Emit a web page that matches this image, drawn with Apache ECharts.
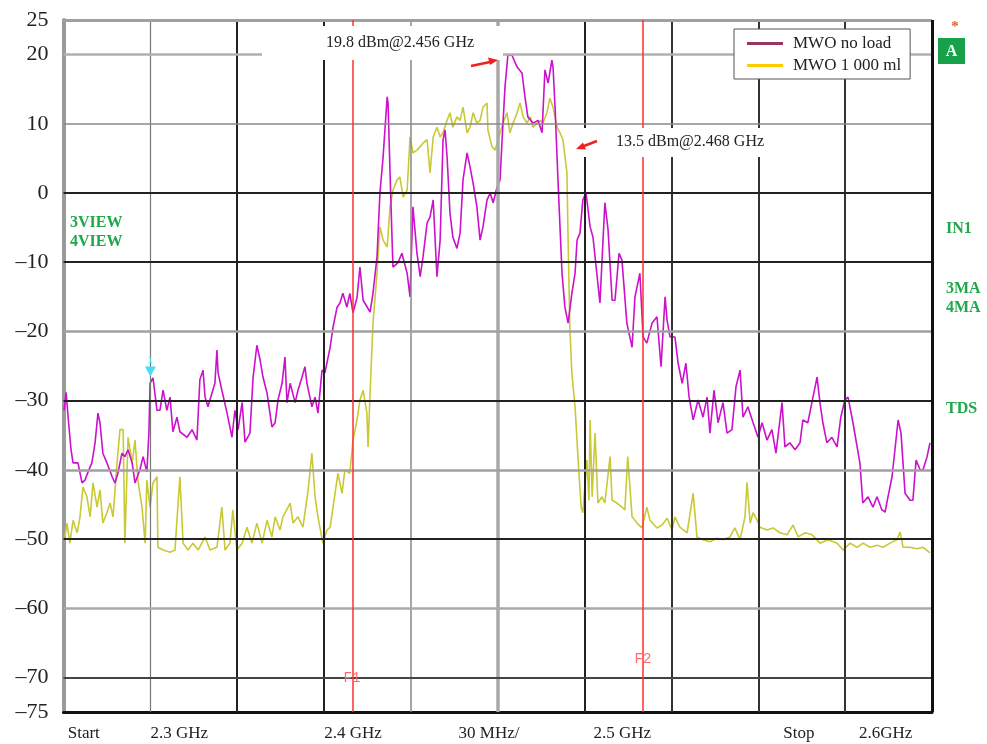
<!DOCTYPE html>
<html><head><meta charset="utf-8">
<script src="https://cdn.jsdelivr.net/npm/echarts@6/dist/echarts.min.js"></script>
<style>html,body{margin:0;padding:0;background:#fff}#c{width:987px;height:744px}</style>
</head><body><div id="c"></div>
<script>
// ---- data (frequency in MHz, level in dBm) ----
const seriesNames = ['MWO no load', 'MWO 1 000 ml'];

const noLoadTrace = [
[2300.2,-31.4],[2300.9,-28.8],[2301.6,-32.4],[2302.6,-37.1],[2303.3,-39.0],[2305.0,-39.0],[2306.4,-41.9],[2307.4,-41.5],[2308.5,-40.3],[2309.8,-39.0],[2310.9,-36.1],[2311.9,-31.8],[2312.6,-33.2],[2313.6,-37.6],[2315.0,-39.0],[2316.8,-41.0],[2317.8,-41.9],[2318.8,-40.5],[2320.2,-37.6],[2321.2,-38.1],[2322.3,-37.1],[2323.7,-39.0],[2324.7,-41.9],[2326.4,-40.0],[2327.5,-38.1],[2328.8,-40.3],[2329.5,-34.7],[2329.9,-27.5],[2330.9,-26.7],[2332.3,-31.4],[2333.3,-31.4],[2334.4,-28.5],[2335.7,-31.4],[2336.8,-29.5],[2337.8,-34.5],[2339.2,-32.4],[2340.2,-34.5],[2342.7,-35.3],[2344.4,-34.2],[2346.1,-35.7],[2347.1,-27.0],[2348.2,-25.6],[2348.9,-29.5],[2349.9,-30.9],[2351.3,-28.9],[2352.3,-27.5],[2353.0,-22.7],[2353.4,-26.0],[2354.7,-28.5],[2356.5,-31.8],[2358.2,-35.3],[2359.2,-31.4],[2360.3,-34.2],[2361.7,-30.3],[2362.7,-36.0],[2364.4,-34.7],[2365.5,-26.6],[2366.8,-22.0],[2367.9,-24.1],[2368.9,-26.6],[2370.3,-28.9],[2372.0,-33.8],[2373.1,-33.2],[2374.1,-29.9],[2375.5,-27.5],[2376.5,-23.7],[2377.2,-30.3],[2378.3,-27.5],[2380.0,-30.3],[2381.0,-28.5],[2382.4,-26.6],[2383.4,-25.1],[2384.1,-27.5],[2385.8,-30.9],[2386.9,-29.5],[2387.9,-31.8],[2389.3,-25.6],[2390.3,-26.0],
[2392.1,-22.3],[2393.1,-19.4],[2394.5,-16.5],[2395.5,-15.9],[2396.5,-14.5],[2397.9,-16.5],[2398.9,-14.5],[2400.0,-17.3],[2401.4,-15.1],[2402.4,-10.7],[2403.5,-15.5],[2405.9,-17.2],[2406.9,-14.5],[2408.3,-9.2],[2409.3,0.0],[2410.4,5.2],[2411.8,13.9],[2412.1,13.0],[2412.8,2.9],[2413.5,-6.8],[2413.8,-10.7],[2415.5,-10.1],[2416.9,-8.7],[2418.7,-11.6],[2419.7,-15.0],[2420.7,-2.0],[2422.1,-8.7],[2423.2,-12.1],[2424.2,-9.2],[2425.6,-4.3],[2426.6,-3.5],[2427.7,-1.0],[2429.0,-12.1],[2430.1,-6.8],[2431.1,7.7],[2431.8,9.1],[2432.5,5.2],[2433.5,-2.9],[2434.5,-6.4],[2435.9,-8.0],[2437.0,-5.8],[2438.0,1.9],[2439.4,5.8],[2440.4,3.8],[2441.5,1.4],[2442.8,-2.0],[2443.9,-6.8],[2444.9,-4.9],[2446.3,-1.0],[2447.4,0.0],[2448.4,-1.4],[2449.8,0.9],[2450.8,1.9],[2451.5,7.7],[2452.5,15.3],[2453.5,19.9],[2454.9,19.9],[2456.7,18.2],[2458.4,17.3],[2459.4,13.9],[2460.4,11.0],[2462.2,10.1],[2463.9,10.5],[2465.3,8.7],[2466.3,17.8],[2467.4,15.9],[2468.7,19.2],[2469.1,18.2],[2469.8,12.4],[2470.8,1.9],[2472.2,-11.6],[2473.2,-16.5],[2474.3,-18.8],[2475.6,-14.5],[2476.7,-11.6],[2477.4,-6.8],[2478.4,-5.8],[2479.4,-1.0],[2480.5,0.0],
[2481.9,-4.9],[2482.9,-6.4],[2485.3,-15.9],[2487.0,-1.4],[2488.1,-5.3],[2489.5,-15.5],[2490.5,-15.5],[2491.9,-8.7],[2492.9,-9.7],[2494.6,-18.8],[2496.4,-22.3],[2497.4,-15.0],[2499.1,-11.6],[2500.2,-20.8],[2501.5,-21.7],[2503.3,-18.8],[2505.0,-17.9],[2506.4,-25.1],[2507.8,-15.0],[2508.5,-18.4],[2509.5,-20.8],[2511.2,-20.8],[2512.3,-24.6],[2513.7,-27.5],[2515.0,-24.6],[2516.1,-29.5],[2517.5,-32.8],[2519.2,-29.9],[2520.9,-32.4],[2522.3,-29.5],[2523.3,-34.7],[2524.7,-28.5],[2526.1,-33.2],[2527.8,-30.3],[2529.2,-34.7],[2530.9,-34.2],[2532.3,-28.0],[2533.7,-25.6],[2534.7,-32.4],[2536.4,-30.9],[2538.2,-33.2],[2539.9,-35.3],[2541.3,-33.2],[2543.0,-35.7],[2544.7,-34.2],[2546.1,-37.6],[2548.2,-30.3],[2549.2,-36.7],[2550.9,-36.1],[2552.7,-37.1],[2554.4,-36.1],[2555.4,-32.8],[2557.1,-33.2],[2558.9,-29.5],[2560.3,-26.6],[2561.3,-30.3],[2562.3,-33.2],[2563.7,-36.1],[2565.4,-35.3],[2567.2,-36.7],[2568.5,-32.4],[2569.9,-29.9],[2571.0,-29.5],[2572.7,-33.2],[2575.1,-39.0],[2576.1,-44.8],[2577.9,-43.9],[2579.6,-45.4],[2581.0,-43.9],[2582.7,-45.8],[2583.8,-46.1],[2584.8,-43.9],[2586.2,-41.0],[2587.2,-37.1],[2588.3,-32.8],[2589.3,-34.7],[2590.7,-43.4],[2592.4,-44.4],[2593.4,-44.4],[2594.5,-38.6],[2595.9,-40.0],[2596.9,-40.0],[2598.3,-38.1],[2599.3,-36.1]
];

const load1000Trace = [
[2300.5,-49.7],[2301.2,-47.7],[2302.2,-50.6],[2303.3,-47.3],[2304.7,-49.1],[2305.7,-46.8],[2306.7,-42.5],[2308.1,-43.9],[2309.2,-46.8],[2310.2,-41.9],[2311.6,-45.4],[2312.6,-42.9],[2313.6,-47.7],[2315.0,-46.2],[2316.1,-44.8],[2317.1,-46.8],[2318.5,-39.0],[2319.5,-34.2],[2320.6,-34.2],[2321.2,-50.6],[2322.3,-35.3],[2323.7,-39.0],[2324.7,-35.7],[2325.7,-41.5],[2327.1,-45.4],[2328.2,-50.6],[2328.8,-41.5],[2329.9,-45.4],[2330.9,-41.9],[2332.3,-41.0],[2332.6,-51.2],[2334.4,-51.6],[2336.8,-51.9],[2338.5,-51.6],[2340.2,-41.0],[2341.3,-50.6],[2343.0,-51.6],[2344.7,-50.6],[2346.5,-51.6],[2348.9,-49.7],[2350.6,-51.6],[2353.0,-51.2],[2354.7,-45.4],[2355.8,-51.6],[2357.5,-50.6],[2358.5,-45.8],[2359.9,-51.6],[2361.7,-50.6],[2363.4,-48.3],[2365.1,-50.6],[2366.8,-47.7],[2368.6,-50.6],[2370.3,-47.3],[2372.0,-49.7],[2373.1,-46.8],[2374.8,-48.7],[2375.8,-46.8],[2378.3,-44.8],[2379.3,-47.7],[2381.0,-46.8],[2382.7,-48.3],[2384.5,-42.9],[2385.8,-37.6],[2386.9,-43.9],[2387.9,-46.8],[2389.6,-50.6],[2391.0,-48.7],
[2392.1,-48.3],[2393.8,-43.4],[2394.8,-40.5],[2396.2,-43.4],[2397.2,-40.0],[2398.9,-40.5],[2400.0,-35.7],[2401.4,-32.8],[2402.4,-29.9],[2403.5,-28.5],[2404.8,-31.8],[2405.2,-36.7],[2405.9,-28.9],[2406.9,-18.8],[2408.3,-11.6],[2409.3,-4.9],[2410.4,-6.8],[2411.8,-7.8],[2412.8,-2.0],[2413.8,0.4],[2415.2,1.9],[2416.2,2.3],[2417.3,-0.6],[2418.7,0.4],[2419.7,8.1],[2420.7,5.8],[2422.1,6.2],[2423.2,6.7],[2424.2,7.2],[2425.6,7.7],[2426.6,2.9],[2427.7,8.1],[2429.0,9.5],[2430.1,8.1],[2431.1,8.7],[2432.5,10.5],[2433.5,11.6],[2434.5,9.5],[2435.9,11.0],[2437.0,10.5],[2438.0,12.4],[2439.4,8.7],[2440.4,9.5],[2441.5,11.6],[2442.8,10.1],[2443.9,10.5],[2444.9,12.4],[2446.3,13.0],[2446.6,9.1],[2448.0,6.7],[2449.1,6.2],[2450.8,8.7],[2451.8,10.1],[2453.2,11.6],[2454.2,8.7],[2455.3,10.1],[2456.7,11.6],[2457.7,13.0],[2458.8,11.0],[2460.1,10.1],[2461.2,11.0],[2462.2,9.5],[2463.6,10.1],[2464.6,10.5],[2465.6,10.1],[2467.0,11.6],[2468.0,13.7],[2469.1,12.4],[2470.5,9.5],[2471.5,8.7],[2472.5,7.7],[2473.9,2.9],[2474.3,-6.8],[2474.9,-19.4],[2475.6,-26.0],[2476.7,-30.9],[2477.7,-38.1],[2478.8,-45.4],[2479.4,-46.2],[2480.8,-38.6],[2481.5,-44.4],
[2481.9,-32.8],[2482.6,-43.9],[2483.6,-34.7],[2484.6,-44.8],[2486.0,-43.9],[2487.0,-44.8],[2488.8,-38.1],[2489.5,-44.4],[2491.2,-44.8],[2492.9,-45.4],[2493.9,-45.8],[2494.9,-38.1],[2496.4,-46.8],[2498.1,-47.7],[2499.8,-48.4],[2501.5,-45.4],[2502.6,-47.3],[2505.0,-48.4],[2506.7,-48.0],[2508.5,-47.0],[2510.2,-48.7],[2511.2,-46.8],[2512.9,-48.3],[2515.4,-49.1],[2517.5,-43.4],[2518.8,-49.7],[2520.9,-50.1],[2523.3,-50.4],[2525.7,-49.9],[2527.8,-50.1],[2530.2,-49.7],[2531.9,-48.4],[2533.7,-50.1],[2535.4,-46.8],[2536.1,-41.8],[2537.2,-47.7],[2538.2,-46.2],[2539.6,-47.3],[2540.6,-48.3],[2543.0,-48.7],[2545.1,-48.4],[2547.5,-49.1],[2549.9,-49.4],[2552.0,-48.0],[2553.8,-49.7],[2556.2,-49.1],[2558.6,-49.4],[2561.3,-50.6],[2564.1,-50.1],[2567.2,-50.6],[2569.3,-51.6],[2571.7,-50.6],[2574.1,-51.2],[2576.2,-50.6],[2578.6,-51.2],[2581.0,-50.9],[2583.1,-51.2],[2585.5,-50.6],[2587.9,-50.1],[2589.0,-49.0],[2590.0,-51.2],[2592.4,-51.2],[2594.8,-51.4],[2596.9,-51.2],[2599.3,-52.0]
];

const yTickValues = [25, 20, 10, 0, -10, -20, -30, -40, -50, -60, -70, -75];
const xLabelValues = [2307, 2340, 2400, 2447, 2493, 2554, 2584];
const xLabelTexts = ['Start', '2.3 GHz', '2.4 GHz', '30 MHz/', '2.5 GHz', 'Stop', '2.6GHz'];
const vGridFreqs = [2330, 2360, 2390, 2420, 2450, 2480, 2510, 2540, 2570];
const hGridLevels = [20, 10, 0, -10, -20, -30, -40, -50, -60, -70];
const markerFreqs = [2400, 2500];
const markerNames = ['F1', 'F2'];
const traceMarkerFreq = 2330, traceMarkerLevel = -25.8;
const peakTexts = ['19.8 dBm@2.456 GHz', '13.5 dBm@2.468 GHz'];
const leftTags = ['3VIEW', '4VIEW'];
const rightTags = ['IN1', '3MA', '4MA', 'TDS'];

// ---- styles ----
const SERIF = '"Liberation Serif", "DejaVu Serif", serif';
const MONO = '"Liberation Mono", "DejaVu Sans Mono", monospace';
const vStyle = {2330:['#777',1.2],2360:['#222',2],2390:['#222',2],2420:['#888',1.5],2450:['#a8a8a8',3.5],2480:['#222',2],2510:['#333',2],2540:['#333',2],2570:['#333',2]};
const hStyle = {20:['#b0b0b0',2.5],10:['#888',1.5],0:['#222',2],'-10':['#222',2],'-20':['#a0a0a0',2.5],'-30':['#222',2],'-40':['#a0a0a0',2.5],'-50':['#222',2],'-60':['#aaa',2.5],'-70':['#444',2]};

const gridLines = [];
vGridFreqs.forEach(f => gridLines.push({xAxis: f, lineStyle: {color: vStyle[f][0], width: vStyle[f][1], type: 'solid'}}));
hGridLevels.forEach(l => gridLines.push({yAxis: l, lineStyle: {color: hStyle[l][0], width: hStyle[l][1], type: 'solid'}}));
gridLines.push({yAxis: 25, lineStyle: {color: '#a0a0a0', width: 3, type: 'solid'}});
gridLines.push({xAxis: 2600, lineStyle: {color: '#111', width: 3, type: 'solid'}});
markerFreqs.forEach(f => gridLines.push({xAxis: f, lineStyle: {color: '#ff3030', width: 1.5, type: 'solid'}}));

const chart = echarts.init(document.getElementById('c'), null, {renderer: 'canvas'});

const greenTag = (text, x, y) => ({type: 'text', z: 100, x: x, y: y, style: {text: text, fontFamily: SERIF, fontWeight: 'bold', fontSize: 16, fill: '#1fa84a', verticalAlign: 'middle'}});
const fTag = (text, x, y) => ({type: 'text', z: 100, x: x, y: y, style: {text: text, fontFamily: MONO, fontSize: 14, fill: '#ff6a6a', align: 'center', verticalAlign: 'middle'}});

chart.setOption({
  animation: false,
  backgroundColor: '#fff',
  grid: {left: 63.5, right: 55, top: 20, bottom: 32, containLabel: false, outerBoundsMode: 'none'},
  legend: {
    orient: 'vertical', left: 734, top: 29, selectedMode: false, z: 95,
    backgroundColor: '#fff', borderColor: '#555', borderWidth: 1,
    padding: [6, 9, 5, 13], itemGap: 5, itemWidth: 36, itemHeight: 3, icon: 'rect',
    textStyle: {fontFamily: SERIF, fontSize: 17, color: '#222', padding: [0, 0, 0, 5]},
    data: [
      {name: seriesNames[0], itemStyle: {color: '#993366'}},
      {name: seriesNames[1], itemStyle: {color: '#ffcc00'}}
    ]
  },
  xAxis: {
    type: 'value', min: 2300, max: 2600,
    splitLine: {show: false}, axisTick: {show: false},
    axisLine: {onZero: false, lineStyle: {color: '#111', width: 3}},
    axisLabel: {
      customValues: xLabelValues, hideOverlap: false, margin: 13,
      fontFamily: SERIF, fontSize: 17, color: '#222',
      formatter: v => { const i = xLabelValues.indexOf(Math.round(v)); return i >= 0 ? xLabelTexts[i] : ''; }
    }
  },
  yAxis: {
    type: 'value', min: -75, max: 25,
    splitLine: {show: false}, axisTick: {show: false},
    axisLine: {show: true, onZero: false, lineStyle: {color: '#9a9a9a', width: 4}},
    axisLabel: {
      customValues: yTickValues, hideOverlap: false, margin: 15,
      fontFamily: SERIF, fontSize: 22, color: '#222',
      formatter: v => String(v).replace('-', '\u2013')
    }
  },
  series: [
    {
      name: 'grid', type: 'line', data: [], z: 1, silent: true,
      markLine: {silent: true, symbol: 'none', label: {show: false}, animation: false, data: gridLines}
    },
    {
      name: seriesNames[1], type: 'line', data: load1000Trace, z: 3,
      showSymbol: false, symbol: 'none',
      lineStyle: {color: '#c9c935', width: 1.6}, itemStyle: {color: '#c9c935'}
    },
    {
      name: seriesNames[0], type: 'line', data: noLoadTrace, z: 4,
      showSymbol: false, symbol: 'none',
      lineStyle: {color: '#cc11cc', width: 1.6}, itemStyle: {color: '#cc11cc'},
      markPoint: {
        silent: true, animation: false,
        data: [{coord: [traceMarkerFreq, traceMarkerLevel], symbol: 'triangle', symbolRotate: 180, symbolSize: [11, 10],
          itemStyle: {color: '#44dff0'},
          label: {show: true, position: 'top', distance: 2, formatter: '1', color: '#44dff0', fontSize: 9}}]
      }
    }
  ],
  graphic: [
    {type: 'rect', z: 90, shape: {x: 262, y: 26, width: 241, height: 34}, style: {fill: '#fff'}},
    {type: 'text', z: 100, x: 400, y: 43, style: {text: peakTexts[0], fontFamily: SERIF, fontSize: 16, fill: '#222', align: 'center', verticalAlign: 'middle'}},
    {type: 'rect', z: 90, shape: {x: 580, y: 128, width: 210, height: 29}, style: {fill: '#fff'}},
    {type: 'text', z: 100, x: 690, y: 142, style: {text: peakTexts[1], fontFamily: SERIF, fontSize: 16, fill: '#222', align: 'center', verticalAlign: 'middle'}},
    {type: 'line', z: 100, shape: {x1: 471, y1: 66, x2: 490, y2: 62}, style: {stroke: '#ee2020', lineWidth: 2.5}},
    {type: 'polygon', z: 100, shape: {points: [[498, 60], [488, 57.5], [490, 65]]}, style: {fill: '#ee2020'}},
    {type: 'line', z: 100, shape: {x1: 597, y1: 141, x2: 584, y2: 146}, style: {stroke: '#ee2020', lineWidth: 2.5}},
    {type: 'polygon', z: 100, shape: {points: [[576, 149], [583, 142.5], [586, 149.5]]}, style: {fill: '#ee2020'}},
    fTag(markerNames[0], 352, 678),
    fTag(markerNames[1], 643, 659),
    {type: 'text', z: 100, x: 955, y: 27, style: {text: '*', fontFamily: SERIF, fontWeight: 'bold', fontSize: 15, fill: '#e8602a', align: 'center', verticalAlign: 'middle'}},
    {type: 'rect', z: 100, shape: {x: 938, y: 38, width: 27, height: 26}, style: {fill: '#17a14a'}},
    {type: 'text', z: 101, x: 951.5, y: 52, style: {text: 'A', fontFamily: SERIF, fontWeight: 'bold', fontSize: 16, fill: '#fff', align: 'center', verticalAlign: 'middle'}},
    greenTag(leftTags[0], 70, 223),
    greenTag(leftTags[1], 70, 242),
    greenTag(rightTags[0], 946, 229),
    greenTag(rightTags[1], 946, 289),
    greenTag(rightTags[2], 946, 308),
    greenTag(rightTags[3], 946, 409)
  ]
});
</script>
</body></html>
